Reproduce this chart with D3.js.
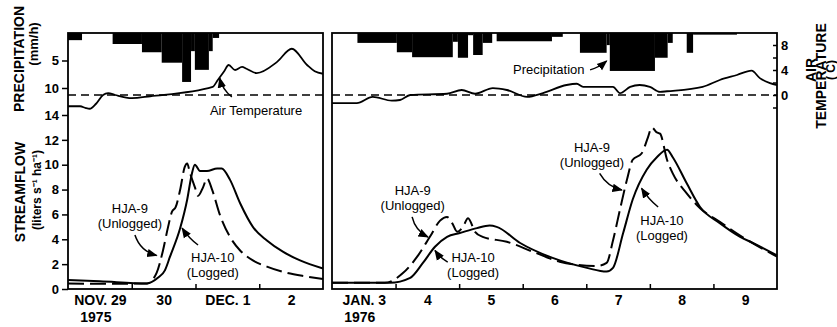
<!DOCTYPE html>
<html>
<head>
<meta charset="utf-8">
<script src="https://cdn.jsdelivr.net/npm/d3@7"></script>
<style>
  body { margin: 0; background: #fff; }
  svg text { font-family: "Liberation Sans", Arial, Helvetica, sans-serif; fill: #000; }
  .frame { fill: none; stroke: #000; stroke-width: 1.8; }
  .axis path { display: none; }
  .axis line { stroke: #000; stroke-width: 1.5; }
  .axis text { font-weight: bold; font-size: 13px; }
  .xlab text { font-size: 14px; }
  .title { font-weight: bold; font-size: 14px; }
  .note { font-size: 13px; }
  .flow { fill: none; stroke: #000; stroke-width: 2; }
  .flow.unlogged { stroke-dasharray: 16,6; }
  .temp { fill: none; stroke: #000; stroke-width: 1.8; }
  .zero { stroke: #000; stroke-width: 1.6; stroke-dasharray: 8,5; }
  .arrow { fill: none; stroke: #000; stroke-width: 1.5; }
</style>
</head>
<body>
<svg id="chart" width="837" height="327"></svg>
<script>
// ---- data (days since the first midnight of each panel) ----
var leftDayLabels = ["NOV. 29", "30", "DEC. 1", "2"];
var leftYear = "1975";
var rightDayLabels = ["JAN. 3", "4", "5", "6", "7", "8", "9"];
var rightYear = "1976";

var flowTicks = [0, 2, 4, 6, 8, 10, 12, 14];
var precipTicks = [5, 10];
var tempTicks = [-2, 0, 2, 4, 6, 8];
var tempLabels = [0, 4, 8];

// precipitation blocks (start day, end day, mm/h)
var leftPrecipStart = [0.00, 0.70, 1.16, 1.47, 1.79, 1.93, 1.99, 2.21, 2.27];
var leftPrecipEnd   = [0.22, 1.16, 1.47, 1.79, 1.93, 1.99, 2.21, 2.27, 2.37];
var leftPrecipRate  = [1.3, 2.0, 3.5, 5.4, 8.9, 3.3, 6.7, 3.3, 0.9];

var rightPrecipStart = [0.40, 1.02, 1.26, 1.90, 1.98, 2.14, 2.22, 2.37, 2.59, 3.46, 3.90, 4.32, 4.37, 5.08, 5.28, 5.58, 5.68];
var rightPrecipEnd   = [1.02, 1.26, 1.90, 1.98, 2.14, 2.22, 2.37, 2.52, 3.46, 3.63, 4.32, 4.37, 5.08, 5.28, 5.36, 5.68, 6.37];
var rightPrecipRate  = [1.8, 3.5, 4.4, 1.6, 4.5, 0.4, 4.0, 1.8, 1.5, 0.7, 3.6, 2.2, 6.9, 4.5, 1.8, 3.6, 0.3];

// air temperature (C)
var leftTempDay = [0, 0.19, 0.28, 0.34, 0.44, 0.55, 0.63, 0.74, 1.0, 1.29, 2.27, 2.35, 2.45, 2.52, 2.62, 2.73, 2.8, 2.96, 3.28, 3.51, 3.75, 3.87, 4.0];
var leftTemp    = [-1.8, -1.8, -2.1, -2.2, -1.4, 0, 0.3, 0, -0.5, -0.2, 1.3, 2.4, 3.8, 4.8, 4.0, 4.5, 4.2, 3.5, 5.3, 7.4, 4.8, 3.8, 3.4];

var rightTempDay = [0, 0.39, 0.64, 0.94, 1.07, 1.23, 1.81, 2.04, 2.25, 2.53, 2.75, 3.07, 3.32, 3.69, 3.85, 3.95, 4.42, 4.53, 4.69, 4.84, 5.0, 5.16, 5.27, 5.83, 6.1, 6.37, 6.6, 6.73, 6.89, 7.0];
var rightTemp    = [-1.3, -1.3, -0.3, -0.9, -0.8, 0, 0.2, 0.8, 0.2, 1.1, 0.8, -0.3, 0.3, 1.6, 1.8, 1.3, 1.3, 0.3, 1.3, 1.6, 1.3, 0.5, 0.6, 1.3, 2.4, 3.2, 3.9, 2.7, 1.9, 1.6];

// streamflow (liters s-1 ha-1)
var leftLoggedDay = [0, 0.5, 1.24, 1.41, 1.52, 1.6, 1.76, 1.87, 1.94, 1.99, 2.07, 2.18, 2.34, 2.41, 2.54, 2.7, 2.9, 3.12, 3.37, 3.64, 4.0];
var leftLogged    = [0.72, 0.62, 0.45, 0.9, 1.5, 2.6, 4.9, 7.2, 9.2, 10.0, 9.5, 9.5, 9.7, 9.7, 8.8, 6.9, 5.0, 3.9, 3.0, 2.3, 1.65];
var leftUnloggedDay = [0, 0.5, 1.24, 1.39, 1.49, 1.57, 1.63, 1.69, 1.76, 1.83, 1.87, 1.91, 1.99, 2.04, 2.12, 2.18, 2.26, 2.38, 2.54, 2.7, 2.9, 3.12, 3.43, 3.75, 4.0];
var leftUnlogged    = [0.45, 0.42, 0.45, 1.3, 3.1, 5.0, 6.2, 6.6, 8.0, 9.8, 10.1, 9.4, 8.2, 7.5, 8.2, 8.9, 8.0, 6.0, 4.2, 3.1, 2.3, 1.8, 1.3, 1.0, 0.8];

var rightLoggedDay = [0, 0.91, 1.23, 1.43, 1.62, 1.81, 2.01, 2.28, 2.48, 2.59, 2.96, 3.47, 4.01, 4.32, 4.42, 4.58, 4.73, 4.95, 5.11, 5.27, 5.36, 5.58, 5.79, 6.1, 6.42, 6.62, 7.0];
var rightLogged    = [0.5, 0.5, 0.9, 2.1, 3.4, 4.2, 4.5, 4.9, 5.1, 5.0, 3.7, 2.5, 1.7, 1.4, 1.7, 4.5, 7.2, 9.6, 10.6, 11.2, 10.6, 8.5, 6.6, 5.3, 4.2, 3.7, 2.7];
var rightUnloggedDay = [0, 0.83, 1.12, 1.34, 1.54, 1.7, 1.81, 1.89, 1.97, 2.06, 2.14, 2.25, 2.37, 2.75, 3.16, 3.58, 4.17, 4.32, 4.42, 4.53, 4.64, 4.73, 4.87, 4.97, 5.03, 5.11, 5.16, 5.27, 5.36, 5.58, 5.79, 6.1, 6.42, 7.0];
var rightUnlogged    = [0.5, 0.5, 1.3, 2.6, 4.2, 5.5, 5.8, 5.3, 4.6, 5.0, 5.7, 4.6, 4.2, 3.8, 3.0, 2.2, 1.85, 2.1, 3.9, 6.4, 8.8, 10.4, 10.9, 12.2, 13.0, 12.6, 12.5, 10.4, 9.3, 7.7, 6.5, 5.4, 4.3, 2.6];

// ---- layout ----
var svg = d3.select("#chart");
var plotTop = 33, plotBottom = 289;

svg.append("defs").append("marker")
    .attr("id", "head")
    .attr("viewBox", "0 0 10 10")
    .attr("refX", 9).attr("refY", 5)
    .attr("markerWidth", 7).attr("markerHeight", 7)
    .attr("orient", "auto")
  .append("path")
    .attr("d", "M0,1 L10,5 L0,9 Z")
    .attr("fill", "#000");

var yFlow = d3.scaleLinear().domain([0, 14]).range([plotBottom, 115]);
var yPrecip = d3.scaleLinear().domain([0, 10]).range([plotTop, 88]);
var yTemp = d3.scaleLinear().domain([0, 8]).range([95, 45]);

function zip(a, b) { return a.map(function(v, i) { return [v, b[i]]; }); }

function drawPanel(p) {
  var x = d3.scaleLinear().domain([0, p.days]).range([p.x0, p.x1]);
  var g = svg.append("g");

  // precipitation blocks hanging from the top
  g.selectAll("rect.pr")
    .data(d3.range(p.pStart.length))
    .enter().append("rect")
      .attr("class", "pr")
      .attr("x", function(i) { return x(p.pStart[i]); })
      .attr("width", function(i) { return x(p.pEnd[i]) - x(p.pStart[i]); })
      .attr("y", plotTop)
      .attr("height", function(i) { return yPrecip(p.pRate[i]) - plotTop; })
      .attr("fill", "#000");

  // 0 C reference line
  g.append("line")
      .attr("class", "zero")
      .attr("x1", p.x0).attr("x2", p.x1)
      .attr("y1", yTemp(0)).attr("y2", yTemp(0));

  var tempLine = d3.line()
      .curve(d3.curveMonotoneX)
      .x(function(d) { return x(d[0]); })
      .y(function(d) { return yTemp(d[1]); });
  g.append("path").datum(zip(p.tDay, p.temp)).attr("class", "temp").attr("d", tempLine);

  var flowLine = d3.line()
      .curve(d3.curveMonotoneX)
      .x(function(d) { return x(d[0]); })
      .y(function(d) { return yFlow(d[1]); });
  g.append("path").datum(zip(p.logDay, p.logged)).attr("class", "flow").attr("d", flowLine);
  g.append("path").datum(zip(p.unDay, p.unlogged)).attr("class", "flow unlogged").attr("d", flowLine);

  // day ticks at midnight (inward) and labels at noon
  g.append("g")
      .attr("class", "axis")
      .attr("transform", "translate(0," + plotBottom + ")")
      .call(d3.axisBottom(x).tickValues(d3.range(1, p.days)).tickSize(-5).tickFormat(""));
  var noon = p.labels.map(function(l, i) { return i + 0.5; });
  g.append("g")
      .attr("class", "axis xlab")
      .attr("transform", "translate(0," + plotBottom + ")")
      .call(d3.axisBottom(x).tickValues(noon).tickSize(0).tickPadding(6)
        .tickFormat(function(d, i) { return p.labels[i]; }));
  g.append("text")
      .attr("class", "title")
      .attr("x", x(0.5) - 4).attr("y", 322)
      .attr("text-anchor", "middle")
      .text(p.year);

  g.append("rect")
      .attr("class", "frame")
      .attr("x", p.x0).attr("y", plotTop)
      .attr("width", p.x1 - p.x0).attr("height", plotBottom - plotTop);

  // annotations
  p.notes.forEach(function(n) {
    var sc = n.s === "t" ? yTemp : n.s === "p" ? yPrecip : yFlow;
    n.lines.forEach(function(t, j) {
      g.append("text")
          .attr("class", "note")
          .attr("x", x(n.at[0]))
          .attr("y", sc(n.at[1]) + j * 15)
          .attr("text-anchor", "middle")
          .attr("dy", "0.35em")
          .text(t);
    });
    if (n.from) {
      var a = [x(n.from[0]), sc(n.from[1])], b = [x(n.to[0]), sc(n.to[1])];
      var mx = (a[0] + b[0]) / 2, my = (a[1] + b[1]) / 2;
      var dx = b[0] - a[0], dy = b[1] - a[1], len = Math.sqrt(dx * dx + dy * dy);
      var cx = mx - dy / len * n.bend, cy = my + dx / len * n.bend;
      g.append("path")
          .attr("class", "arrow")
          .attr("marker-end", "url(#head)")
          .attr("d", "M" + a + "Q" + cx + "," + cy + " " + b);
    }
  });
  return x;
}

drawPanel({
  x0: 68, x1: 323, days: 4,
  labels: leftDayLabels, year: leftYear,
  pStart: leftPrecipStart, pEnd: leftPrecipEnd, pRate: leftPrecipRate,
  tDay: leftTempDay, temp: leftTemp,
  logDay: leftLoggedDay, logged: leftLogged,
  unDay: leftUnloggedDay, unlogged: leftUnlogged,
  notes: [
    {s: "t", at: [2.95, -2.4], lines: ["Air Temperature"], from: [2.57, -0.3], to: [2.38, 2.7], bend: -4},
    {s: "f", at: [0.97, 6.5], lines: ["HJA-9", "(Unlogged)"], from: [1.05, 4.35], to: [1.39, 2.7], bend: 8},
    {s: "f", at: [2.27, 2.57], lines: ["HJA-10", "(Logged)"], from: [2.04, 3.54], to: [1.79, 4.9], bend: -2}
  ]
});

drawPanel({
  x0: 332, x1: 777, days: 7,
  labels: rightDayLabels, year: rightYear,
  pStart: rightPrecipStart, pEnd: rightPrecipEnd, pRate: rightPrecipRate,
  tDay: rightTempDay, temp: rightTemp,
  logDay: rightLoggedDay, logged: rightLogged,
  unDay: rightUnloggedDay, unlogged: rightUnlogged,
  notes: [
    {s: "p", at: [3.41, 6.7], lines: ["Precipitation"], from: [4.06, 6.7], to: [4.32, 5.1], bend: 2},
    {s: "f", at: [1.27, 7.96], lines: ["HJA-9", "(Unlogged)"], from: [1.26, 5.8], to: [1.51, 4.18], bend: 6},
    {s: "f", at: [2.22, 2.57], lines: ["HJA-10", "(Logged)"], from: [1.82, 2.17], to: [1.62, 3.1], bend: -2},
    {s: "f", at: [4.09, 11.4], lines: ["HJA-9", "(Unlogged)"], from: [4.21, 9.3], to: [4.56, 7.96], bend: 6},
    {s: "f", at: [5.19, 5.55], lines: ["HJA-10", "(Logged)"], from: [5.13, 6.6], to: [4.87, 8.1], bend: -2}
  ]
});

// left axis: precipitation on top, streamflow below
svg.append("g")
    .attr("class", "axis")
    .attr("transform", "translate(68,0)")
    .call(d3.axisLeft(yPrecip).tickValues(precipTicks).tickSize(6).tickPadding(3));
svg.append("g")
    .attr("class", "axis")
    .attr("transform", "translate(68,0)")
    .call(d3.axisLeft(yFlow).tickValues(flowTicks).tickSize(6).tickPadding(3));

// right axis: air temperature
svg.append("g")
    .attr("class", "axis")
    .attr("transform", "translate(777,0)")
    .call(d3.axisLeft(yTemp).tickValues(tempTicks).tickSize(4).tickFormat(""));
svg.append("g")
    .attr("class", "axis")
    .attr("transform", "translate(777,0)")
    .call(d3.axisRight(yTemp).tickValues(tempLabels).tickSize(0).tickPadding(4));

// axis titles
function vtitle(x, y, txt, size) {
  svg.append("text")
      .attr("class", "title")
      .attr("transform", "translate(" + x + "," + y + ")rotate(-90)")
      .attr("text-anchor", "middle")
      .attr("dy", "0.35em")
      .style("font-size", size + "px")
      .text(txt);
}
vtitle(19, 59, "PRECIPITATION", 14);
vtitle(33, 44, "(mm/h)", 13);
vtitle(20, 192, "STREAMFLOW", 14);
vtitle(37, 190, "(liters s\u207B\u00B9 ha\u207B\u00B9)", 12);
vtitle(811, 70, "AIR", 14);
vtitle(821, 76, "TEMPERATURE", 14);
vtitle(831, 70, "( C)", 12);
</script>
</body>
</html>
